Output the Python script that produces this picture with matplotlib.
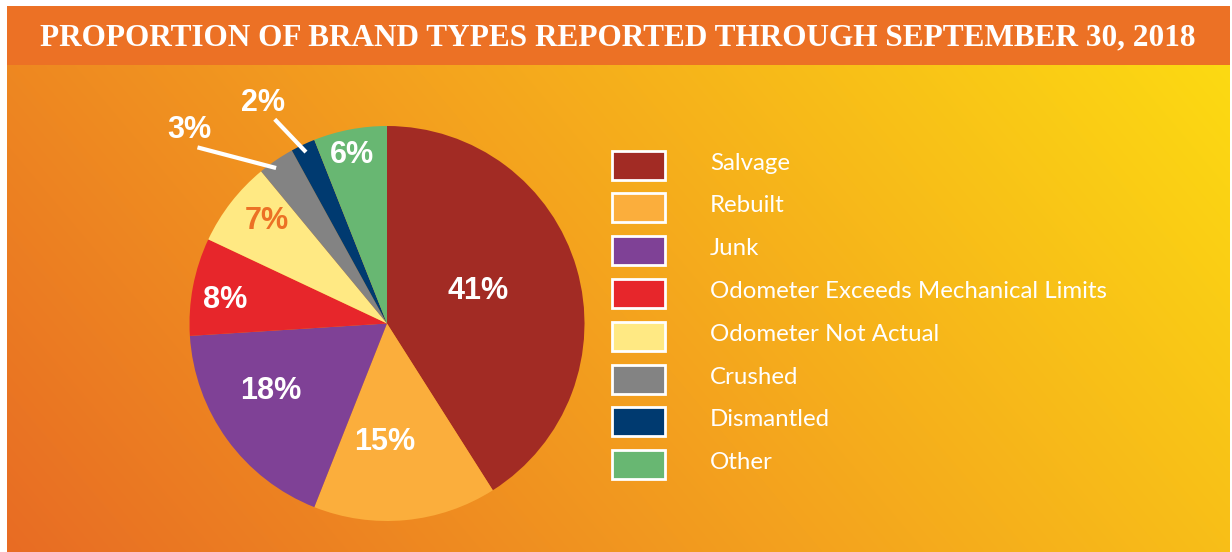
import numpy as np
import matplotlib.pyplot as plt
from matplotlib.patches import Rectangle

# data
brands = ['Salvage', 'Rebuilt', 'Junk', 'Odometer Exceeds Mechanical Limits',
          'Odometer Not Actual', 'Crushed', 'Dismantled', 'Other']
shares = [41, 15, 18, 8, 7, 3, 2, 6]
colors = ['#A22B24', '#FBAE3C', '#7F4196', '#E7262B',
          '#FFE983', '#838383', '#003A70', '#68B772']
title = 'PROPORTION OF BRAND TYPES REPORTED THROUGH SEPTEMBER 30, 2018'

# label placement (radius as fraction of pie radius, angle tweak in degrees)
label_rad = [0.49, 0.60, 0.68, 0.83, 0.80, 1.40, 1.28, 0.87]
label_dang = [3.7, -6.4, -6.0, 2.6, -2.5, 11.3, 4.3, 0.9]
label_col = ['white', 'white', 'white', 'white', '#EC7125', 'white', 'white', 'white']
# leader lines for small slices: (r_in, ang_in, r_out, ang_out)
leaders = [(0.967, 125.5, 1.31, 137.1), (0.96, 115.3, 1.18, 118.8)]

W, H = 1232, 552
fig = plt.figure(figsize=(W / 100, H / 100), dpi=100)
ax = fig.add_axes([0, 0, 1, 1])

# gradient panel, mostly left (orange) to right (yellow), slightly diagonal
px0, px1, py0, py1 = 7, 1230, 0, H - 65
gx, gy = np.meshgrid(np.linspace(0, 1, 400), np.linspace(1, 0, 200))
t = 0.75 * gx + 0.25 * gy
stops = np.array([[232, 108, 36], [244, 163, 30], [252, 218, 18]]) / 255.0
pos = [0.0, 0.5, 1.0]
img = np.stack([np.interp(t, pos, stops[:, k]) for k in range(3)], axis=-1)
ax.imshow(img, extent=(px0, px1, py0, py1), aspect='auto', zorder=0,
          interpolation='bilinear')

# header bar
ax.add_patch(Rectangle((7, H - 65), 1223, 59, facecolor='#EC7125',
                       edgecolor='none', zorder=1))
ax.text(618, H - 45, title, color='white', fontsize=22.5, fontweight='bold',
        family='Liberation Serif', ha='center', va='baseline', zorder=2)

# pie
cx, cy, R = 387, H - 323.5, 197.5
wedges, _ = ax.pie(shares, colors=colors, startangle=90, counterclock=False,
                   center=(cx, cy), radius=R, frame=True,
                   wedgeprops=dict(linewidth=0))
for w in wedges:
    w.set_zorder(3)
ax.set_xlim(0, W)
ax.set_ylim(0, H)
ax.set_aspect('auto')
ax.axis('off')

for i, w in enumerate(wedges):
    mid = (w.theta1 + w.theta2) / 2 + label_dang[i]
    r = label_rad[i] * R
    lx = cx + r * np.cos(np.radians(mid))
    ly = cy + r * np.sin(np.radians(mid))
    ax.text(lx, ly, f'{shares[i]}%', color=label_col[i], fontsize=22,
            fontweight='bold', family='Liberation Sans', ha='center',
            va='center', zorder=5)

for r0, a0, r1, a1 in leaders:
    xs = [cx + r0 * R * np.cos(np.radians(a0)), cx + r1 * R * np.cos(np.radians(a1))]
    ys = [cy + r0 * R * np.sin(np.radians(a0)), cy + r1 * R * np.sin(np.radians(a1))]
    ax.plot(xs, ys, color='white', lw=3, solid_capstyle='butt', zorder=5)

# legend
lx0, ly0, step = 612, H - 165, 42.8
for i, name in enumerate(brands):
    y = ly0 - i * step
    ax.add_patch(Rectangle((lx0, y - 14.5), 53, 29, facecolor=colors[i],
                           edgecolor='white', linewidth=2, zorder=4))
    ax.text(710, y - 4.5, name, color='white', fontsize=17.3, family='Lato',
            ha='left', va='baseline', zorder=4)

fig.savefig('out.png', dpi=100)
